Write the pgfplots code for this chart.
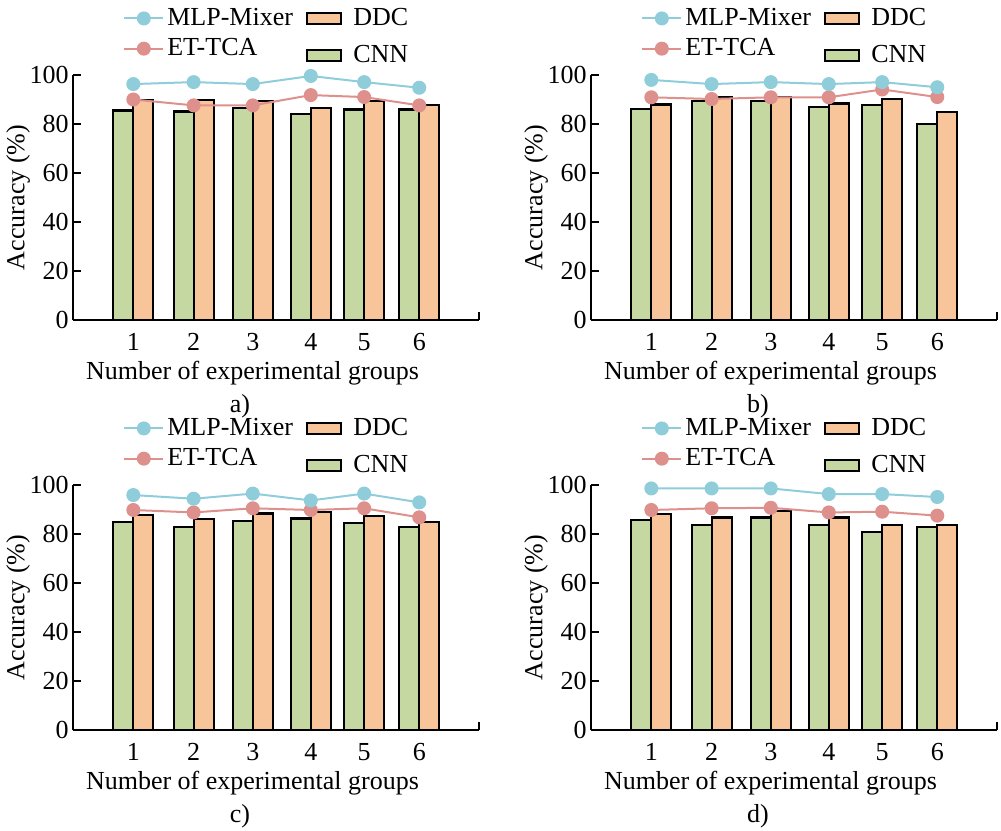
\documentclass[border=0pt]{standalone}
\usepackage{fontspec}
\setmainfont{Liberation Serif}
\usepackage{pgfplots}
\usepackage{pgfplotstable}
\pgfplotsset{compat=1.18}
\definecolor{mlp}{HTML}{8FCDDA}
\definecolor{etc}{HTML}{DE918C}
\definecolor{cnn}{HTML}{C5D8A2}
\definecolor{ddc}{HTML}{F8C499}

\pgfplotstableread{
x cnn ddc mlp et
1.04 85.5 89.9 96.3 90.0
2.08 85.1 89.8 97.1 87.6
3.10 86.5 89.5 96.3 87.6
4.10 84.0 86.6 99.6 91.8
5.02 85.9 89.5 97.1 91.0
5.97 85.9 87.6 94.8 87.6
}\tA
\pgfplotstableread{
x cnn ddc mlp et
1.04 86.1 88.0 98.0 90.9
2.08 89.5 90.9 96.3 90.2
3.10 89.5 91.1 97.1 90.9
4.10 86.8 88.4 96.3 90.9
5.02 87.6 90.3 97.1 94.1
5.97 79.9 84.9 95.0 91.0
}\tB
\pgfplotstableread{
x cnn ddc mlp et
1.04 84.9 87.9 95.9 89.8
2.08 83.0 86.0 94.4 88.8
3.10 85.3 88.4 96.5 90.5
4.10 86.3 89.1 93.7 89.8
5.02 84.4 87.3 96.5 90.5
5.97 83.0 84.8 92.9 86.8
}\tC
\pgfplotstableread{
x cnn ddc mlp et
1.04 85.7 88.2 98.6 89.8
2.08 83.7 86.7 98.6 90.5
3.10 86.7 89.4 98.6 90.7
4.10 83.7 86.7 96.3 88.8
5.02 80.7 83.7 96.3 89.1
5.97 82.7 83.7 95.1 87.5
}\tD

\newcommand{\fnt}{\fontsize{13}{15}\selectfont}
\pgfplotsset{
  lineleg/.style={legend image code/.code={\draw[mark repeat=2,mark phase=2,##1] plot coordinates {(0pt,0pt) (9.75pt,0pt) (19.5pt,0pt)};}},
  panel/.style={
    scale only axis, width=203pt, height=122.5pt, anchor=south west,
    xmin=0, xmax=7, ymin=0, ymax=100,
    axis x line=bottom, axis y line=left,
    axis line style={-, line width=1pt, black},
    tick align=inside, major tick length=4pt,
    every tick/.style={black, line width=1pt},
    xtick={1.04,2.08,3.10,4.10,5.02,5.97,7},
    xticklabels={1,2,3,4,5,6,{}},
    ytick={0,20,40,60,80,100},
    /pgf/number format/assume math mode=true,
    tick label style={font=\fnt},
    xticklabel style={yshift=-3.2pt},
    yticklabel style={inner sep=2pt},
    label style={font=\fnt},
    xlabel={Number of experimental groups},
    ylabel={Accuracy (\%)},
    xlabel style={at={(axis description cs:0.442,-0.216)}, anchor=center},
    ylabel style={at={(axis description cs:-0.135,0.5)}, anchor=center},
    clip=false,
    legend columns=2, transpose legend,
    legend cell align=left,
    legend style={at={(axis description cs:0.123,1.286)}, anchor=north west, draw=none, fill=none, font=\fnt, inner sep=0pt,
      nodes={inner sep=1.5pt},
      row sep=2pt,
      /tikz/every even column/.append style={column sep=5pt},
      /tikz/row 2 column 3/.style={yshift=-3.5pt},
      /tikz/row 2 column 4/.style={yshift=-3.5pt}},
  },
  barC/.style={ybar, bar width=0.345, bar shift=-0.1725, fill=cnn, draw=black, line width=1.1pt, forget plot},
  barD/.style={ybar, bar width=0.345, bar shift=0.1725, fill=ddc, draw=black, line width=1.1pt, forget plot},
  lnM/.style={color=mlp, line width=1pt, mark=*, mark size=3pt, mark options={fill=mlp, draw=mlp}, forget plot},
  lnE/.style={color=etc, line width=1pt, mark=*, mark size=3pt, mark options={fill=etc, draw=etc}, forget plot},
}
\newcommand{\panelbody}[2]{%
  \addlegendimage{color=mlp, line width=1pt, mark=*, mark size=3pt, mark options={fill=mlp, draw=mlp}, lineleg}
  \addlegendimage{color=etc, line width=1pt, mark=*, mark size=3pt, mark options={fill=etc, draw=etc}, lineleg}
  \addlegendimage{fill=ddc, draw=black, line width=1.1pt, area legend}
  \addlegendimage{fill=cnn, draw=black, line width=1.1pt, area legend}
  \addplot[barC] table[x=x,y=cnn]{#1};
  \addplot[barD] table[x=x,y=ddc]{#1};
  \addplot[lnE] table[x=x,y=et]{#1};
  \addplot[lnM] table[x=x,y=mlp]{#1};
  \legend{MLP-Mixer,ET-TCA,\kern4pt DDC,\kern4pt CNN}
  \node[font=\fnt] at (axis description cs:0.411,-0.351) {#2};
}

\begin{document}
\begin{tikzpicture}
\path[use as bounding box] (0,0) rectangle (500.5pt,-415pt);
\begin{axis}[panel, at={(36.5pt,-160pt)}]
\panelbody{\tA}{a)}
\end{axis}
\begin{axis}[panel, at={(295.5pt,-160pt)}]
\panelbody{\tB}{b)}
\end{axis}
\begin{axis}[panel, at={(36.5pt,-365pt)}]
\panelbody{\tC}{c)}
\end{axis}
\begin{axis}[panel, at={(295.5pt,-365pt)}]
\panelbody{\tD}{d)}
\end{axis}
\end{tikzpicture}
\end{document}
